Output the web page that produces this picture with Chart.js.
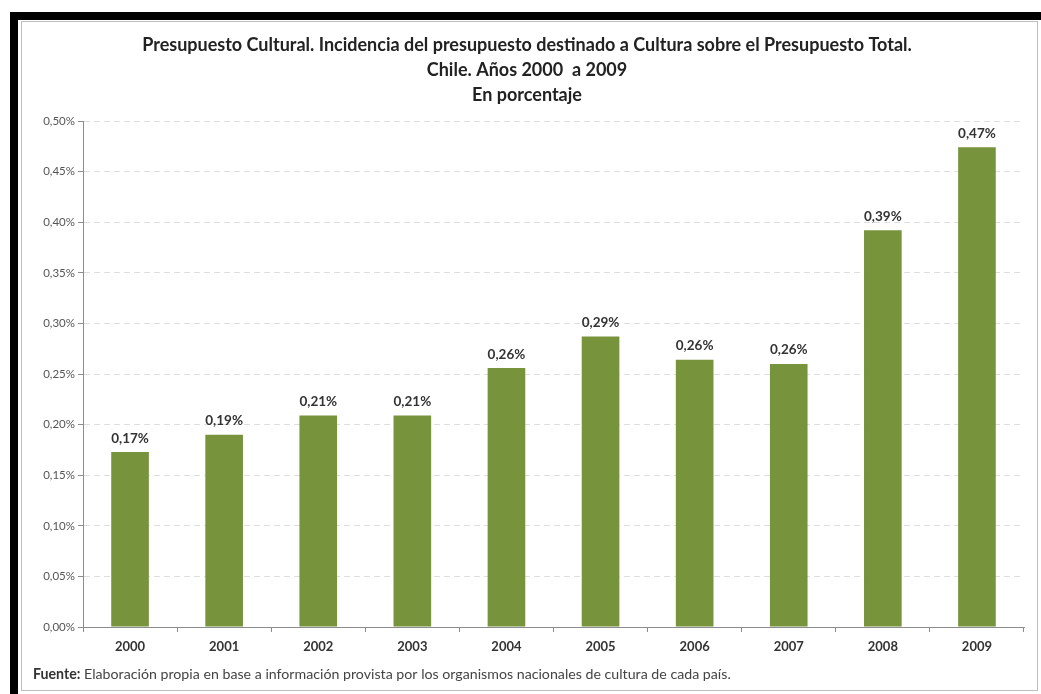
<!DOCTYPE html>
<html>
<head>
<meta charset="utf-8">
<script src="https://cdn.jsdelivr.net/npm/chart.js@4"></script>
<style>
  html, body { margin: 0; padding: 0; background: #fff; }
  #wrap { position: relative; width: 1041px; height: 694px; overflow: hidden; }
  #outer { position: absolute; left: 10px; top: 12px; width: 1031px; height: 682px;
           border-left: 8px solid #000; border-top: 8px solid #000; box-sizing: border-box; }
  #inner { position: absolute; left: 21px; top: 21px; width: 1017px; height: 670px;
           border: 1px solid #bdbdbd; box-sizing: border-box; }
  canvas { position: absolute; left: 0; top: 0; }
</style>
</head>
<body>
<div id="wrap">
  <div id="outer"></div>
  <div id="inner"></div>
  <canvas id="budgetChart" width="1041" height="694"></canvas>
</div>
<script>
// === Data ===
const years = ['2000', '2001', '2002', '2003', '2004', '2005', '2006', '2007', '2008', '2009'];
const sharePct = [0.173, 0.19, 0.209, 0.209, 0.256, 0.287, 0.264, 0.26, 0.392, 0.474];
const titleLines = [
    'Presupuesto Cultural. Incidencia del presupuesto destinado a Cultura sobre el Presupuesto Total.',
    'Chile. Años 2000  a 2009',
    'En porcentaje'
];
const sourceLabel = 'Fuente:';
const sourceText = ' Elaboración propia en base a información provista por los organismos nacionales de cultura de cada país.';

const FONT = 'Lato, "Open Sans", sans-serif';

function pct(v) {
    return v.toFixed(2).replace('.', ',') + '%';
}

// value labels over each bar
const barLabels = {
    id: 'barLabels',
    afterDatasetsDraw(chart) {
        const ctx = chart.ctx;
        const meta = chart.getDatasetMeta(0);
        ctx.save();
        ctx.font = 'bold 13.5px ' + FONT;
        ctx.fillStyle = '#333';
        ctx.textAlign = 'center';
        ctx.textBaseline = 'bottom';
        meta.data.forEach((bar, i) => {
            ctx.fillText(pct(sharePct[i]), bar.x, bar.y - 7);
        });
        ctx.restore();
    }
};

// source note at the bottom
const sourceNote = {
    id: 'sourceNote',
    afterDraw(chart) {
        const ctx = chart.ctx;
        ctx.save();
        ctx.textBaseline = 'middle';
        ctx.fillStyle = '#333';
        ctx.font = 'bold 14.2px ' + FONT;
        ctx.fillText(sourceLabel, 33, 674);
        const w = ctx.measureText(sourceLabel).width;
        ctx.font = '14.2px ' + FONT;
        ctx.fillStyle = '#444';
        ctx.fillText(sourceText, 33 + w, 674);
        ctx.restore();
    }
};

const ctx = document.getElementById('budgetChart').getContext('2d');
new Chart(ctx, {
    type: 'bar',
    data: {
        labels: years,
        datasets: [{
            data: sharePct,
            backgroundColor: '#77933c',
            barPercentage: 0.4,
            categoryPercentage: 1.0
        }]
    },
    options: {
        responsive: false,
        animation: false,
        layout: { padding: { left: 30, right: 17, top: 0, bottom: 35 } },
        plugins: {
            legend: { display: false },
            tooltip: { enabled: false },
            title: {
                display: true,
                text: titleLines,
                color: '#222',
                font: { family: FONT, size: 18, weight: 'bold', lineHeight: 25 / 18 },
                padding: { top: 33, bottom: 13 }
            }
        },
        scales: {
            x: {
                afterFit: s => { s.height = 32; },
                border: { color: '#8c8c8c' },
                grid: { drawOnChartArea: false, tickLength: 5, tickColor: '#8c8c8c' },
                ticks: { color: '#333', padding: 7, font: { family: FONT, size: 13, weight: 'bold' } }
            },
            y: {
                min: 0,
                max: 0.5,
                afterFit: s => { s.width = 53; },
                border: { color: '#8c8c8c', dash: [6, 4] },
                grid: { color: '#dedede', tickLength: 5, tickColor: '#8c8c8c' },
                ticks: {
                    stepSize: 0.05,
                    color: '#555',
                    padding: 3,
                    font: { family: FONT, size: 11.5 },
                    callback: v => pct(v)
                }
            }
        }
    },
    plugins: [barLabels, sourceNote]
});
</script>
</body>
</html>
